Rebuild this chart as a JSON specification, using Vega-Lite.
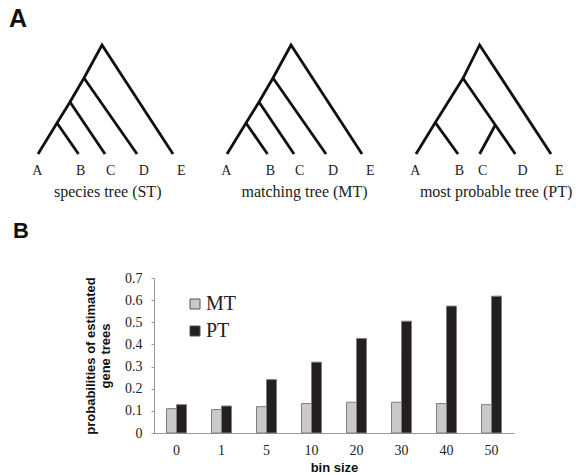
{
  "$schema": "https://vega.github.io/schema/vega-lite/v6.json",
  "padding": {"left": 9, "top": 7, "right": 5, "bottom": 5},
  "background": "white",
  "spacing": 19,
  "title": {"text": "A", "anchor": "start", "frame": "group", "font": "Liberation Sans", "fontSize": 25, "fontWeight": "bold", "color": "#111111", "dx": -21, "offset": -13, "baseline": "alphabetic"},
  "resolve": {"legend": {"fill": "independent"}},
  "config": {"view": {"stroke": null}, "font": "Liberation Sans"},
  "datasets": {
    "trees": [
      {"tree": "ST", "kind": "edge", "path": "s", "ord": 1, "x": 0, "y": 0},
      {"tree": "ST", "kind": "edge", "path": "s", "ord": 2, "x": 19, "y": 31},
      {"tree": "ST", "kind": "edge", "path": "s", "ord": 3, "x": 32, "y": 52},
      {"tree": "ST", "kind": "edge", "path": "s", "ord": 4, "x": 46, "y": 76},
      {"tree": "ST", "kind": "edge", "path": "s", "ord": 5, "x": 64, "y": 109},
      {"tree": "ST", "kind": "edge", "path": "s", "ord": 6, "x": 135, "y": 0},
      {"tree": "ST", "kind": "edge", "path": "b", "ord": 1, "x": 19, "y": 31},
      {"tree": "ST", "kind": "edge", "path": "b", "ord": 2, "x": 40.5, "y": 0},
      {"tree": "ST", "kind": "edge", "path": "c", "ord": 1, "x": 32, "y": 52},
      {"tree": "ST", "kind": "edge", "path": "c", "ord": 2, "x": 67, "y": 0},
      {"tree": "ST", "kind": "edge", "path": "d", "ord": 1, "x": 46, "y": 76},
      {"tree": "ST", "kind": "edge", "path": "d", "ord": 2, "x": 99, "y": 0},
      {"tree": "MT", "kind": "edge", "path": "s", "ord": 1, "x": 0, "y": 0},
      {"tree": "MT", "kind": "edge", "path": "s", "ord": 2, "x": 19, "y": 31},
      {"tree": "MT", "kind": "edge", "path": "s", "ord": 3, "x": 32, "y": 52},
      {"tree": "MT", "kind": "edge", "path": "s", "ord": 4, "x": 46, "y": 76},
      {"tree": "MT", "kind": "edge", "path": "s", "ord": 5, "x": 64, "y": 109},
      {"tree": "MT", "kind": "edge", "path": "s", "ord": 6, "x": 135, "y": 0},
      {"tree": "MT", "kind": "edge", "path": "b", "ord": 1, "x": 19, "y": 31},
      {"tree": "MT", "kind": "edge", "path": "b", "ord": 2, "x": 40.5, "y": 0},
      {"tree": "MT", "kind": "edge", "path": "c", "ord": 1, "x": 32, "y": 52},
      {"tree": "MT", "kind": "edge", "path": "c", "ord": 2, "x": 67, "y": 0},
      {"tree": "MT", "kind": "edge", "path": "d", "ord": 1, "x": 46, "y": 76},
      {"tree": "MT", "kind": "edge", "path": "d", "ord": 2, "x": 99, "y": 0},
      {"tree": "PT", "kind": "edge", "path": "s", "ord": 1, "x": 0, "y": 0},
      {"tree": "PT", "kind": "edge", "path": "s", "ord": 2, "x": 19.3, "y": 31.4},
      {"tree": "PT", "kind": "edge", "path": "s", "ord": 3, "x": 47, "y": 75.7},
      {"tree": "PT", "kind": "edge", "path": "s", "ord": 4, "x": 63.6, "y": 109},
      {"tree": "PT", "kind": "edge", "path": "s", "ord": 5, "x": 135, "y": 0},
      {"tree": "PT", "kind": "edge", "path": "b", "ord": 1, "x": 19.3, "y": 31.4},
      {"tree": "PT", "kind": "edge", "path": "b", "ord": 2, "x": 42, "y": 0},
      {"tree": "PT", "kind": "edge", "path": "d", "ord": 1, "x": 47, "y": 75.7},
      {"tree": "PT", "kind": "edge", "path": "d", "ord": 2, "x": 79.3, "y": 29},
      {"tree": "PT", "kind": "edge", "path": "d", "ord": 3, "x": 99.3, "y": 0},
      {"tree": "PT", "kind": "edge", "path": "c", "ord": 1, "x": 63.6, "y": 0},
      {"tree": "PT", "kind": "edge", "path": "c", "ord": 2, "x": 79.3, "y": 29},
      {"tree": "ST", "kind": "leaf", "label": "A", "x": -0.6},
      {"tree": "ST", "kind": "leaf", "label": "B", "x": 42.7},
      {"tree": "ST", "kind": "leaf", "label": "C", "x": 72.7},
      {"tree": "ST", "kind": "leaf", "label": "D", "x": 105.7},
      {"tree": "ST", "kind": "leaf", "label": "E", "x": 143.4},
      {"tree": "MT", "kind": "leaf", "label": "A", "x": -0.7},
      {"tree": "MT", "kind": "leaf", "label": "B", "x": 43.3},
      {"tree": "MT", "kind": "leaf", "label": "C", "x": 72.6},
      {"tree": "MT", "kind": "leaf", "label": "D", "x": 106},
      {"tree": "MT", "kind": "leaf", "label": "E", "x": 143.3},
      {"tree": "PT", "kind": "leaf", "label": "A", "x": -0.7},
      {"tree": "PT", "kind": "leaf", "label": "B", "x": 43.3},
      {"tree": "PT", "kind": "leaf", "label": "C", "x": 66.6},
      {"tree": "PT", "kind": "leaf", "label": "D", "x": 106.6},
      {"tree": "PT", "kind": "leaf", "label": "E", "x": 143.3},
      {"tree": "ST", "kind": "cap", "label": "species tree (ST)", "x": 69.7},
      {"tree": "MT", "kind": "cap", "label": "matching tree (MT)", "x": 77.6},
      {"tree": "PT", "kind": "cap", "label": "most probable tree (PT)", "x": 80.1}
    ]
  },
  "vconcat": [
    {
      "spacing": 31,
      "bounds": "flush",
      "hconcat": [
        {
          "width": 158, "height": 135,
          "data": {"name": "trees"},
          "transform": [{"filter": "datum.tree === 'ST'"}],
          "layer": [
            {
              "transform": [{"filter": "datum.kind === 'edge'"}],
              "mark": {"type": "line", "color": "#111111", "strokeWidth": 2.8, "strokeJoin": "miter", "strokeCap": "butt"},
              "encoding": {
                "x": {"field": "x", "type": "quantitative", "scale": {"domain": [-8, 150], "nice": false, "zero": false}, "axis": null},
                "y": {"field": "y", "type": "quantitative", "scale": {"domain": [-25, 110], "nice": false, "zero": false}, "axis": null},
                "detail": {"field": "path"},
                "order": {"field": "ord"}
              }
            },
            {
              "transform": [{"filter": "datum.kind === 'leaf'"}],
              "mark": {"type": "text", "font": "Liberation Serif", "fontSize": 14, "color": "#222222", "baseline": "alphabetic"},
              "encoding": {"x": {"field": "x", "type": "quantitative"}, "y": {"datum": -20.5}, "text": {"field": "label"}}
            },
            {
              "transform": [{"filter": "datum.kind === 'cap'"}],
              "mark": {"type": "text", "font": "Liberation Serif", "fontSize": 16, "color": "#222222", "baseline": "alphabetic"},
              "encoding": {"x": {"field": "x", "type": "quantitative"}, "y": {"datum": -43.3}, "text": {"field": "label"}}
            }
          ]
        },
        {
          "width": 158, "height": 135,
          "data": {"name": "trees"},
          "transform": [{"filter": "datum.tree === 'MT'"}],
          "layer": [
            {
              "transform": [{"filter": "datum.kind === 'edge'"}],
              "mark": {"type": "line", "color": "#111111", "strokeWidth": 2.8, "strokeJoin": "miter", "strokeCap": "butt"},
              "encoding": {
                "x": {"field": "x", "type": "quantitative", "scale": {"domain": [-8, 150], "nice": false, "zero": false}, "axis": null},
                "y": {"field": "y", "type": "quantitative", "scale": {"domain": [-25, 110], "nice": false, "zero": false}, "axis": null},
                "detail": {"field": "path"},
                "order": {"field": "ord"}
              }
            },
            {
              "transform": [{"filter": "datum.kind === 'leaf'"}],
              "mark": {"type": "text", "font": "Liberation Serif", "fontSize": 14, "color": "#222222", "baseline": "alphabetic"},
              "encoding": {"x": {"field": "x", "type": "quantitative"}, "y": {"datum": -20.5}, "text": {"field": "label"}}
            },
            {
              "transform": [{"filter": "datum.kind === 'cap'"}],
              "mark": {"type": "text", "font": "Liberation Serif", "fontSize": 16, "color": "#222222", "baseline": "alphabetic"},
              "encoding": {"x": {"field": "x", "type": "quantitative"}, "y": {"datum": -43.3}, "text": {"field": "label"}}
            }
          ]
        },
        {
          "width": 158, "height": 135,
          "data": {"name": "trees"},
          "transform": [{"filter": "datum.tree === 'PT'"}],
          "layer": [
            {
              "transform": [{"filter": "datum.kind === 'edge'"}],
              "mark": {"type": "line", "color": "#111111", "strokeWidth": 2.8, "strokeJoin": "miter", "strokeCap": "butt"},
              "encoding": {
                "x": {"field": "x", "type": "quantitative", "scale": {"domain": [-8, 150], "nice": false, "zero": false}, "axis": null},
                "y": {"field": "y", "type": "quantitative", "scale": {"domain": [-25, 110], "nice": false, "zero": false}, "axis": null},
                "detail": {"field": "path"},
                "order": {"field": "ord"}
              }
            },
            {
              "transform": [{"filter": "datum.kind === 'leaf'"}],
              "mark": {"type": "text", "font": "Liberation Serif", "fontSize": 14, "color": "#222222", "baseline": "alphabetic"},
              "encoding": {"x": {"field": "x", "type": "quantitative"}, "y": {"datum": -20.5}, "text": {"field": "label"}}
            },
            {
              "transform": [{"filter": "datum.kind === 'cap'"}],
              "mark": {"type": "text", "font": "Liberation Serif", "fontSize": 16, "color": "#222222", "baseline": "alphabetic"},
              "encoding": {"x": {"field": "x", "type": "quantitative"}, "y": {"datum": -43.3}, "text": {"field": "label"}}
            }
          ]
        }
      ]
    },
    {
      "spacing": 14,
      "resolve": {"legend": {"fill": "independent"}},
      "hconcat": [
        {
          "width": 40,
          "height": 155,
          "title": {"text": "B", "anchor": "start", "font": "Liberation Sans", "fontSize": 22, "fontWeight": "bold", "color": "#111111", "dx": -17, "offset": 18, "baseline": "alphabetic"},
          "data": {"values": [{"n": 1}]},
          "mark": {"type": "text", "text": ""},
          "encoding": {}
        },
        {
          "width": 360,
          "height": 155,
          "data": {"values": [
            {"bin": "0", "tree": "MT", "p": 0.110},
            {"bin": "0", "tree": "PT", "p": 0.128},
            {"bin": "1", "tree": "MT", "p": 0.106},
            {"bin": "1", "tree": "PT", "p": 0.122},
            {"bin": "5", "tree": "MT", "p": 0.119},
            {"bin": "5", "tree": "PT", "p": 0.241},
            {"bin": "10", "tree": "MT", "p": 0.133},
            {"bin": "10", "tree": "PT", "p": 0.320},
            {"bin": "20", "tree": "MT", "p": 0.139},
            {"bin": "20", "tree": "PT", "p": 0.427},
            {"bin": "30", "tree": "MT", "p": 0.139},
            {"bin": "30", "tree": "PT", "p": 0.505},
            {"bin": "40", "tree": "MT", "p": 0.133},
            {"bin": "40", "tree": "PT", "p": 0.573},
            {"bin": "50", "tree": "MT", "p": 0.128},
            {"bin": "50", "tree": "PT", "p": 0.618}
          ]},
          "mark": {"type": "bar", "stroke": "#7f7f7f", "strokeWidth": 1},
          "encoding": {
            "x": {
              "field": "bin", "type": "nominal",
              "sort": ["0", "1", "5", "10", "20", "30", "40", "50"],
              "scale": {"paddingInner": 0.556, "paddingOuter": 0.278},
              "axis": {"title": "bin size", "labelAngle": 0, "ticks": false, "labelPadding": 10, "labelFont": "Liberation Serif", "labelFontSize": 14, "labelColor": "#222222", "domainColor": "#999999", "titleFont": "Liberation Sans", "titleFontSize": 13, "titleFontWeight": "bold", "titleColor": "#111111", "titlePadding": 4}
            },
            "xOffset": {"field": "tree", "type": "nominal", "sort": ["MT", "PT"]},
            "y": {
              "field": "p", "type": "quantitative",
              "scale": {"domain": [0, 0.7], "nice": false},
              "axis": {"values": [0, 0.1, 0.2, 0.3, 0.4, 0.5, 0.6, 0.7], "format": "~g", "grid": false, "tickSize": 3, "tickColor": "#999999", "domainColor": "#999999", "labelPadding": 9, "labelFont": "Liberation Serif", "labelFontSize": 14, "labelColor": "#222222", "title": ["probabilities of estimated", "gene trees"], "titleFont": "Liberation Sans", "titleFontSize": 13, "titleFontWeight": "bold", "titleColor": "#111111", "titlePadding": 12, "titleLineHeight": 15.5}
            },
            "fill": {
              "field": "tree", "type": "nominal", "sort": ["MT", "PT"],
              "scale": {"range": ["#c9c9c9", "#231f20"]},
              "legend": {"orient": "none", "legendX": 31, "legendY": 16, "title": null, "padding": 0, "symbolType": "square", "symbolSize": 100, "symbolStrokeWidth": 1, "symbolStrokeColor": "#555555", "labelFont": "Liberation Serif", "labelFontSize": 20, "labelColor": "#222222", "labelOffset": 1, "rowPadding": 7}
            }
          }
        }
      ]
    }
  ]
}
